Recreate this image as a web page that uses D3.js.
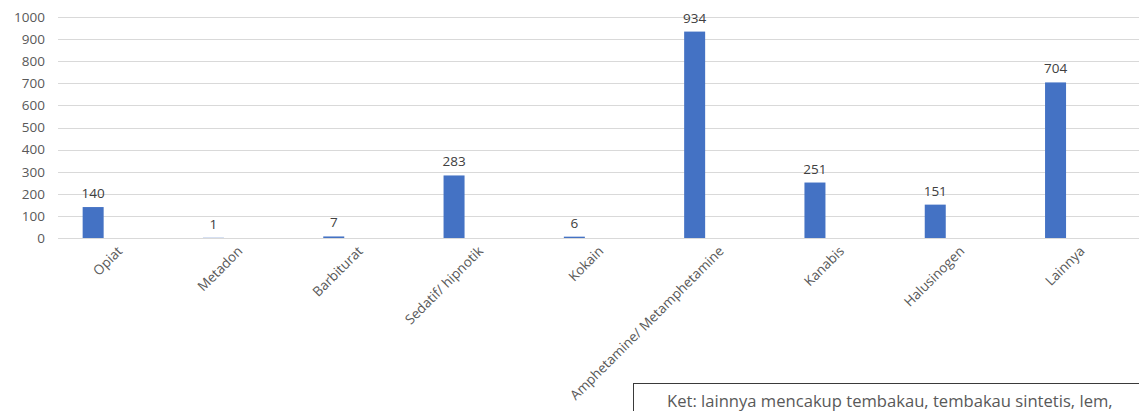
<!DOCTYPE html>
<html>
<head>
<meta charset="utf-8">
<script src="https://cdn.jsdelivr.net/npm/d3@7"></script>
<style>
  body { margin: 0; background: #fff; }
  svg { display: block; }
  .y-axis text { font-family: "Open Sans", sans-serif; font-size: 13.5px; fill: #595959; }
  .x-label { font-family: "Open Sans", sans-serif; font-size: 13.5px; fill: #595959; }
  .value-label { font-family: "Open Sans", sans-serif; font-size: 13.5px; fill: #404040; }
  .note { font-family: "Open Sans", sans-serif; font-size: 16.6px; fill: #595959; }
</style>
</head>
<body>
<div id="chart"></div>
<script>
// data
var categories = ["Opiat", "Metadon", "Barbiturat", "Sedatif/ hipnotik", "Kokain",
                  "Amphetamine/ Metamphetamine", "Kanabis", "Halusinogen", "Lainnya"];
var values = [140, 1, 7, 283, 6, 934, 251, 151, 704];
var yTicks = [0, 100, 200, 300, 400, 500, 600, 700, 800, 900, 1000];
var noteText = "Ket: lainnya mencakup tembakau, tembakau sintetis, lem,";

var width = 1139, height = 411;
var barWidth = 21;

var svg = d3.select("#chart").append("svg")
    .attr("width", width)
    .attr("height", height);

var x = d3.scalePoint()
    .domain(categories)
    .range([33, 1115.7])
    .padding(0.5);

var y = d3.scaleLinear()
    .domain([0, 1000])
    .range([238, 17]);

// gridlines
svg.append("g")
    .attr("class", "grid")
  .selectAll("line")
  .data(yTicks)
  .enter().append("line")
    .attr("x1", 58)
    .attr("x2", width)
    .attr("y1", function(d) { return Math.round(y(d)) + 0.5; })
    .attr("y2", function(d) { return Math.round(y(d)) + 0.5; })
    .attr("stroke", "#d9d9d9")
    .attr("stroke-width", 1);

// y axis labels
var yAxis = d3.axisLeft(y)
    .tickValues(yTicks)
    .tickFormat(d3.format("d"))
    .tickSize(0)
    .tickPadding(0);
svg.append("g")
    .attr("class", "y-axis")
    .attr("transform", "translate(45,0)")
    .call(yAxis)
    .call(function(g) { g.select(".domain").remove(); });

// bars
svg.append("g")
  .selectAll("rect")
  .data(values)
  .enter().append("rect")
    .attr("x", function(d, i) { return x(categories[i]) - barWidth / 2; })
    .attr("width", barWidth)
    .attr("y", function(d) { return y(d); })
    .attr("height", function(d) { return y(0) - y(d); })
    .attr("fill", "#4472c4");

// value labels
svg.append("g")
  .selectAll("text")
  .data(values)
  .enter().append("text")
    .attr("class", "value-label")
    .attr("x", function(d, i) { return x(categories[i]); })
    .attr("y", function(d) { return y(d) - 9; })
    .attr("text-anchor", "middle")
    .text(function(d) { return d; });

// note box (drawn under the labels)
svg.append("rect")
    .attr("x", 633.5)
    .attr("y", 383.5)
    .attr("width", 560)
    .attr("height", 60)
    .attr("fill", "#fff")
    .attr("stroke", "#3a3a3a")
    .attr("stroke-width", 1);

svg.append("text")
    .attr("class", "note")
    .attr("x", 667)
    .attr("y", 407)
    .text(noteText);

// rotated category labels
svg.append("g")
  .selectAll("text")
  .data(categories)
  .enter().append("text")
    .attr("class", "x-label")
    .attr("text-anchor", "end")
    .attr("transform", function(d) {
      return "translate(" + (x(d) + 30) + ",252) rotate(-45)";
    })
    .text(function(d) { return d; });
</script>
</body>
</html>
